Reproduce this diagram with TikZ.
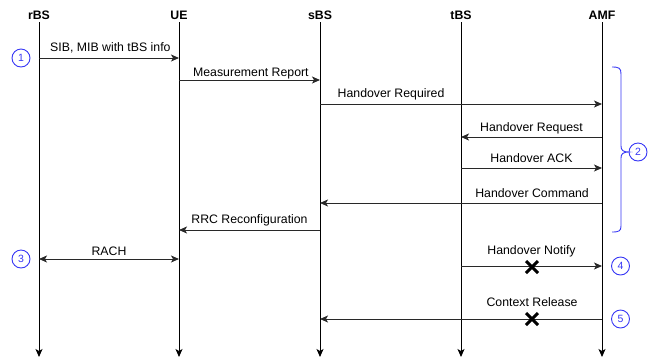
\documentclass[tikz,border=0pt]{standalone}
\usepackage{fontspec}
\setmainfont{Liberation Sans}
\usetikzlibrary{arrows.meta}
\definecolor{mblue}{RGB}{55,55,245}
\definecolor{mline}{RGB}{40,40,40}
\tikzset{
  hdr/.style={font=\bfseries\fontsize{12.3}{14}\selectfont, inner sep=0pt},
  lifeline/.style={draw=black, line width=1pt, -{Stealth[length=8pt,width=7pt,inset=2pt]}},
  msg/.style={draw=mline, line width=1pt, -{Stealth[length=8pt,width=7pt,inset=2pt]}},
  bmsg/.style={draw=mline, line width=1pt, {Stealth[length=8pt,width=7pt,inset=2pt]}-{Stealth[length=8pt,width=7pt,inset=2pt]}},
  lbl/.style={font=\fontsize{12.3}{14}\selectfont, inner sep=0pt, anchor=base},
  num/.style={circle, draw=mblue, line width=0.9pt, text=mblue, minimum size=18pt, inner sep=0pt, font=\fontsize{10.5}{12}\selectfont},
  xmark/.style={draw=black, line width=3pt},
}
\begin{document}
\begin{tikzpicture}[x=1pt,y=-1pt]
\useasboundingbox (0,0) rectangle (653,360);
% headers
\node[hdr] (hr) at (39,15) {rBS};
\node[hdr] (hu) at (179,15) {UE};
\node[hdr] (hs) at (320,15) {sBS};
\node[hdr] (ht) at (461,15) {tBS};
\node[hdr] (ha) at (602,15) {AMF};
% lifeline ends
\coordinate (er) at (39,357);
\coordinate (eu) at (179,357);
\coordinate (es) at (320,357);
\coordinate (et) at (461,357);
\coordinate (ea) at (602,357);
\draw[lifeline] (hr.south |- 0,22) -- (er);
\draw[lifeline] (hu.south |- 0,22) -- (eu);
\draw[lifeline] (hs.south |- 0,22) -- (es);
\draw[lifeline] (ht.south |- 0,22) -- (et);
\draw[lifeline] (ha.south |- 0,22) -- (ea);
% message end points
\coordinate (r1) at (39,58);   \coordinate (u1) at (179,58);
\coordinate (u2) at (179,80);  \coordinate (s2) at (320,80);
\coordinate (s3) at (320,104); \coordinate (a3) at (602,104);
\coordinate (a4) at (602,137); \coordinate (t4) at (461,137);
\coordinate (t5) at (461,168); \coordinate (a5) at (602,168);
\coordinate (a6) at (602,203); \coordinate (s6) at (320,203);
\coordinate (s7) at (320,230); \coordinate (u7) at (179,230);
\coordinate (r8) at (39,259);  \coordinate (u8) at (179,259);
\coordinate (t9) at (461,266); \coordinate (a9) at (602,266);
\coordinate (a10) at (602,319); \coordinate (s10) at (320,319);
% messages
\draw[msg] (r1) -- node[lbl, pos=0.51, yshift=6.7pt] (l1) {SIB, MIB with tBS info} (u1);
\draw[msg] (u2) -- node[lbl, pos=0.51, yshift=3.9pt] (l2) {Measurement Report} (s2);
\draw[msg] (s3) -- node[lbl, pos=0.252, yshift=6.7pt] (l3) {Handover Required} (a3);
\draw[msg] (a4) -- node[lbl, pos=0.5, yshift=5.7pt] (l4) {Handover Request} (t4);
\draw[msg] (t5) -- node[lbl, pos=0.5, yshift=5.7pt] (l5) {Handover ACK} (a5);
\draw[msg] (a6) -- node[lbl, pos=0.248, yshift=5.7pt] (l6) {Handover Command} (s6);
\draw[msg] (s7) -- node[lbl, pos=0.5, yshift=6.7pt] (l7) {RRC Reconfiguration} (u7);
\draw[bmsg] (r8) -- node[lbl, pos=0.5, yshift=3.9pt] (l8) {RACH} (u8);
\draw[msg] (t9) -- node[lbl, pos=0.5, yshift=11.7pt] (l9) {Handover Notify} (a9);
\draw[msg] (a10) -- node[lbl, pos=0.248, yshift=12.7pt] (l10) {Context Release} (s10);
% failure marks
\coordinate (x9) at (532,267);
\coordinate (x10) at (532,319);
\draw[xmark] ([shift={(-6,-6)}]x9) -- ([shift={(6,6)}]x9) ([shift={(-6,6)}]x9) -- ([shift={(6,-6)}]x9);
\draw[xmark] ([shift={(-6,-6)}]x10) -- ([shift={(6,6)}]x10) ([shift={(-6,6)}]x10) -- ([shift={(6,-6)}]x10);
% step numbers
\node[num] (n1) at (21,58) {1};
\node[num] (n2) at (638,152) {2};
\node[num] (n3) at (21,259) {3};
\node[num] (n4) at (620.5,266) {4};
\node[num] (n5) at (620.5,319) {5};
% brace
\draw[draw=mblue, line width=0.9pt] (612,67) .. controls (619,67) and (621,68) .. (621,74) -- (621,146) .. controls (621,150) and (623,152) .. (n2.west) .. controls (623,152) and (621,154) .. (621,158) -- (621,226) .. controls (621,231) and (619,232) .. (612,232);
\end{tikzpicture}
\end{document}
